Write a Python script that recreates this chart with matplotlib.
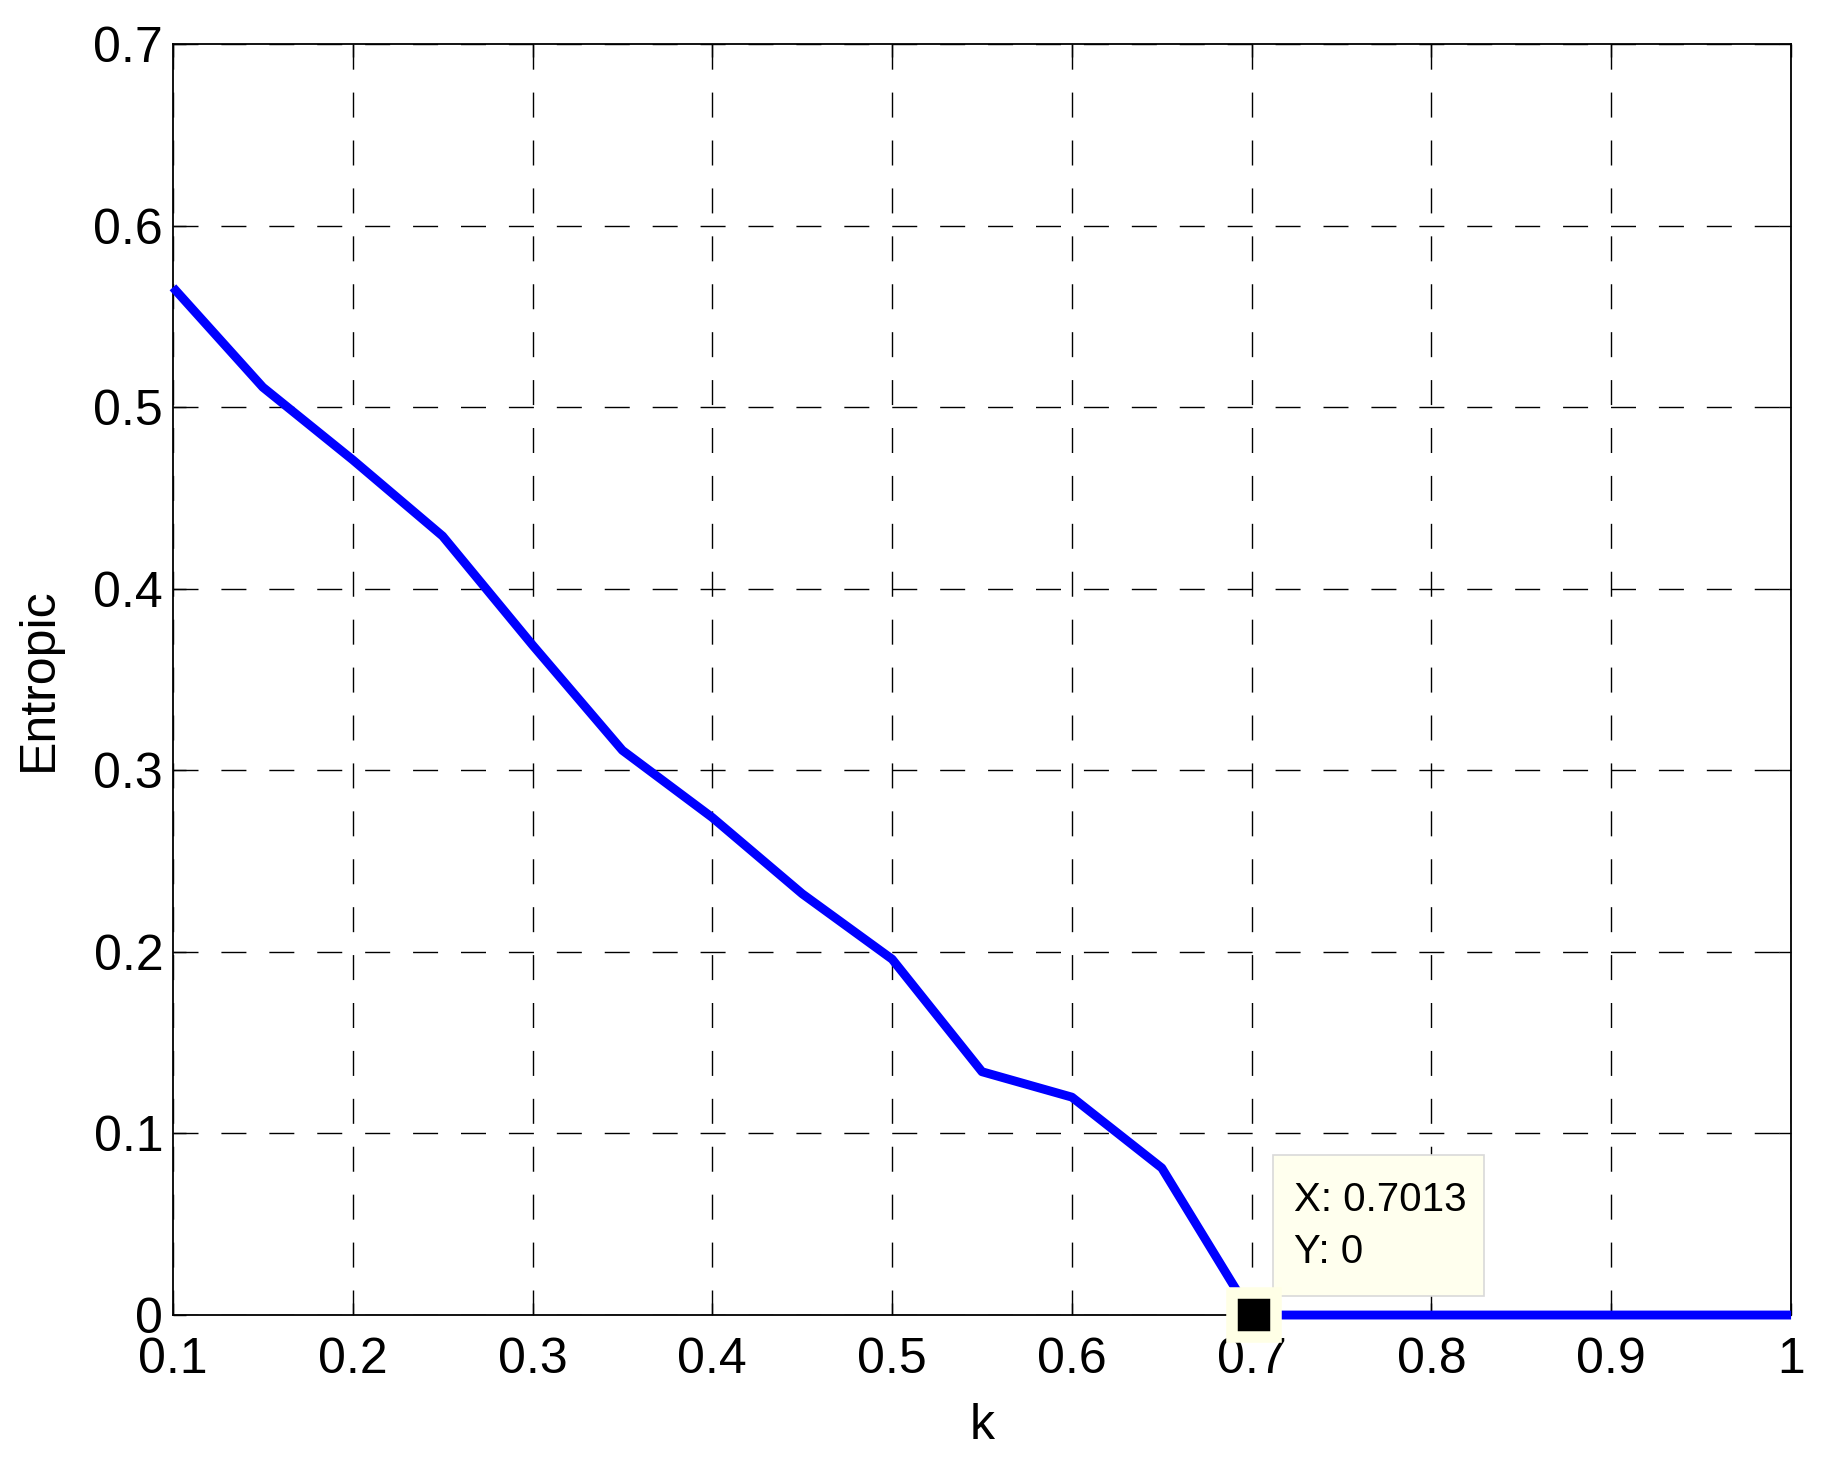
import matplotlib
matplotlib.use("Agg")
import matplotlib.pyplot as plt
from matplotlib.patches import Rectangle

# values
k = [0.10, 0.15, 0.20, 0.25, 0.30, 0.35, 0.40, 0.45, 0.50, 0.55, 0.60, 0.65,
     0.70, 0.75, 0.80, 0.85, 0.90, 0.95, 1.00]
entropic = [0.566, 0.511, 0.471, 0.429, 0.369, 0.311, 0.274, 0.232, 0.196,
            0.134, 0.120, 0.081, 0.0, 0.0, 0.0, 0.0, 0.0, 0.0, 0.0]
cursor_x = 0.7013
cursor_y = 0.0

xticks = [0.1, 0.2, 0.3, 0.4, 0.5, 0.6, 0.7, 0.8, 0.9, 1.0]
xticklabels = ["0.1", "0.2", "0.3", "0.4", "0.5", "0.6", "0.7", "0.8", "0.9", "1"]
yticks = [0, 0.1, 0.2, 0.3, 0.4, 0.5, 0.6, 0.7]
yticklabels = ["0", "0.1", "0.2", "0.3", "0.4", "0.5", "0.6", "0.7"]

plt.rcParams['font.family'] = ['Liberation Sans', 'DejaVu Sans']

fig = plt.figure(figsize=(18.28, 14.68), dpi=100)
ax = fig.add_axes([0.0946, 0.1042, 0.8852, 0.8658])

ax.plot(k, entropic, color="#0000FF", linewidth=6.4, clip_on=False,
        solid_capstyle="butt", solid_joinstyle="round", zorder=3)

# data cursor
ax.plot([cursor_x], [cursor_y], marker="s", markersize=32,
        markerfacecolor="black", markeredgecolor="#FFFFE6",
        markeredgewidth=8.3, clip_on=False, zorder=6)
ax.add_patch(Rectangle((0.7117, 0.0105), 0.1177, 0.0776, facecolor="#FFFFEE",
                       edgecolor="#D9D9D9", linewidth=1.2, zorder=5))
ax.text(0.7233, 0.0573, f"X: {cursor_x}", fontsize=29, color="black", zorder=7)
ax.text(0.7233, 0.0286, f"Y: {cursor_y:g}", fontsize=29, color="black", zorder=7)

ax.set_xlim(0.1, 1.0)
ax.set_ylim(0, 0.7)
ax.set_xticks(xticks)
ax.set_xticklabels(xticklabels)
ax.set_yticks(yticks)
ax.set_yticklabels(yticklabels)

ax.grid(True, color="black", linewidth=1.0, linestyle=(0, (18, 16.5)))
ax.set_axisbelow(True)
ax.tick_params(axis="both", direction="in", length=9, width=1.0,
               top=True, right=True, labelsize=36, colors="black")
ax.tick_params(axis="x", pad=16)
ax.tick_params(axis="y", pad=7)
for s in ax.spines.values():
    s.set_linewidth(1.3)
    s.set_color("black")

ax.set_xlabel("k", fontsize=36, labelpad=14)
ax.set_ylabel("Entropic", fontsize=36, labelpad=23)

fig.savefig("out.png", dpi=100, facecolor="white")
